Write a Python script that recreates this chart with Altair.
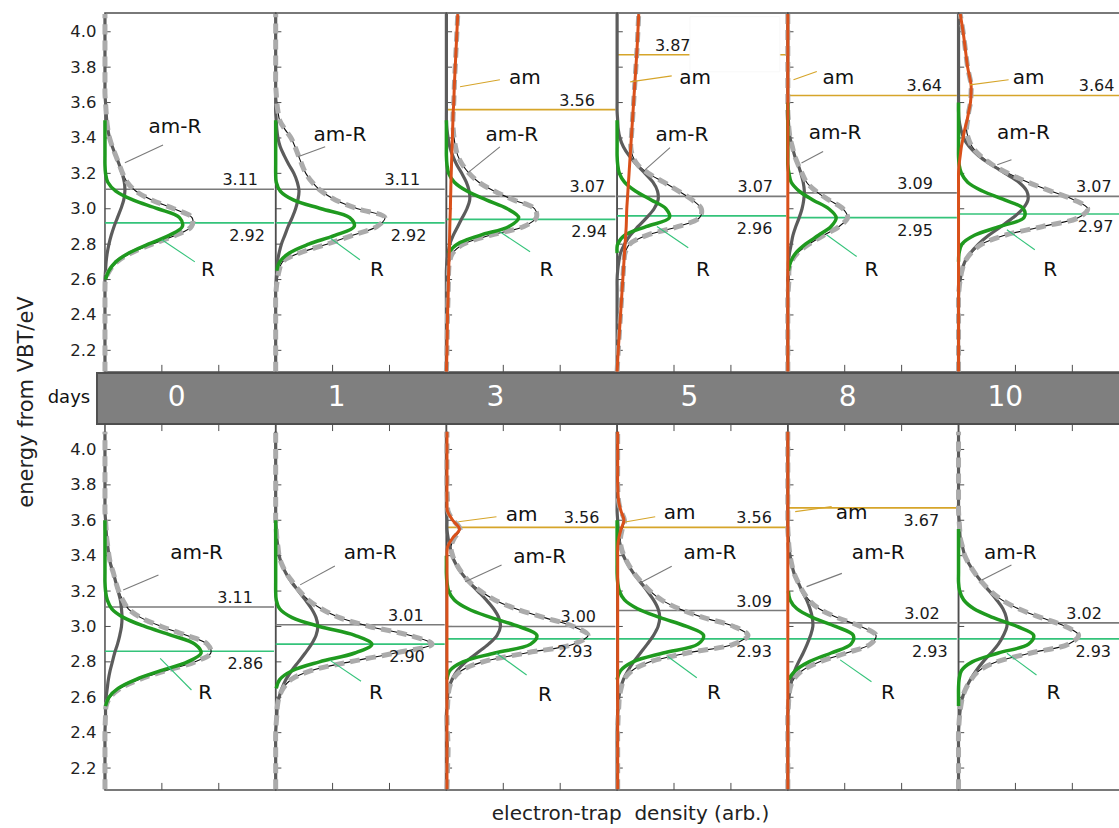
import altair as alt
import pandas as pd

# ---------------------------------------------------------------- data
DAYS = [0, 1, 3, 5, 8, 10]

# energy grid (eV from the valence-band top) on which every profile is listed
ENERGY = [2.08, 2.2, 2.3, 2.4,
          2.5, 2.55, 2.6, 2.65, 2.7, 2.75, 2.8, 2.85, 2.9, 2.95,
          3.0, 3.05, 3.1, 3.15, 3.2, 3.25, 3.3, 3.35, 3.4, 3.45,
          3.5, 3.55, 3.6, 3.65, 3.7, 3.8, 3.9, 4.0, 4.1]

# upper row: electron-trap density profiles, one list per day
UPPER_R = [
    [None, None, None, None,
     None, None, 0.01, 0.07, 0.19, 0.42, 0.76, 1.13, 1.36, 1.31,
     0.93, 0.49, 0.19, 0.05, 0.01, 0.0, 0.0, 0.0, 0.0, 0.0,
     0.0, None, None, None, None, None, None, None, None],
    [None, None, None, None,
     None, None, None, 0.02, 0.07, 0.24, 0.58, 1.04, 1.38, 1.30,
     0.80, 0.31, 0.08, 0.01, 0.0, 0.0, 0.0, 0.0, 0.0, 0.0,
     0.0, None, None, None, None, None, None, None, None],
    [None, None, None, None,
     None, None, None, None, None, 0.03, 0.19, 0.59, 1.10, 1.27,
     1.07, 0.70, 0.36, 0.14, 0.04, 0.01, 0.0, 0.0, 0.0, 0.0,
     0.0, None, None, None, None, None, None, None, None],
    [None, None, None, None,
     None, None, None, None, None, 0.0, 0.01, 0.13, 0.52, 0.92,
     0.86, 0.60, 0.32, 0.13, 0.04, 0.01, 0.0, 0.0, 0.0, 0.0,
     0.0, None, None, None, None, None, None, None, None],
    [None, None, None, None,
     None, None, None, 0.01, 0.05, 0.14, 0.31, 0.54, 0.76, 0.85,
     0.72, 0.44, 0.20, 0.06, 0.02, 0.0, 0.0, 0.0, 0.0, 0.0,
     0.0, 0.0, 0.0, None, None, None, None, None, None],
    [None, None, None, None,
     None, None, None, None, 0.0, 0.01, 0.06, 0.28, 0.73, 1.15,
     1.14, 0.81, 0.42, 0.16, 0.05, 0.01, 0.0, 0.0, 0.0, 0.0,
     0.0, 0.0, 0.0, None, None, None, None, None, None],
]
UPPER_AMR = [
    [0.0, 0.0, 0.0, 0.0,
     0.0, 0.0, 0.0, 0.01, 0.02, 0.04, 0.07, 0.11, 0.16, 0.22,
     0.28, 0.33, 0.35, 0.34, 0.30, 0.25, 0.19, 0.13, 0.08, 0.05,
     0.03, 0.02, 0.01, 0.0, 0.0, 0.0, 0.0, 0.0, 0.0],
    [0.0, 0.0, 0.0, 0.0,
     0.0, 0.0, 0.01, 0.02, 0.03, 0.06, 0.10, 0.16, 0.22, 0.29,
     0.35, 0.39, 0.41, 0.38, 0.32, 0.23, 0.15, 0.08, 0.04, 0.02,
     0.01, 0.0, 0.0, 0.0, 0.0, 0.0, 0.0, 0.0, 0.0],
    [0.0, 0.0, 0.0, 0.0,
     0.0, 0.0, 0.0, 0.0, 0.01, 0.03, 0.06, 0.12, 0.20, 0.28,
     0.36, 0.41, 0.40, 0.35, 0.27, 0.18, 0.11, 0.06, 0.03, 0.01,
     0.0, 0.0, 0.0, 0.0, 0.0, 0.0, 0.0, 0.0, 0.0],
    [0.0, 0.0, 0.0, 0.0,
     0.0, 0.0, 0.0, 0.01, 0.03, 0.06, 0.13, 0.23, 0.37, 0.52,
     0.65, 0.72, 0.71, 0.63, 0.49, 0.34, 0.21, 0.11, 0.05, 0.02,
     0.01, 0.0, 0.0, 0.0, 0.0, 0.0, 0.0, 0.0, 0.0],
    [0.0, 0.0, 0.0, 0.0,
     0.0, 0.0, 0.0, 0.01, 0.01, 0.03, 0.06, 0.09, 0.14, 0.20,
     0.25, 0.28, 0.29, 0.27, 0.23, 0.18, 0.12, 0.08, 0.04, 0.02,
     0.01, 0.0, 0.0, 0.0, 0.0, 0.0, 0.0, 0.0, 0.0],
    [0.0, 0.0, 0.0, 0.0,
     0.0, 0.01, 0.03, 0.06, 0.11, 0.21, 0.35, 0.53, 0.75, 0.96,
     1.13, 1.22, 1.20, 1.06, 0.82, 0.57, 0.35, 0.19, 0.09, 0.04,
     0.01, 0.0, 0.0, 0.0, 0.0, 0.0, 0.0, 0.0, 0.0],
]
UPPER_AM = [
    None,
    None,
    [0.0, 0.01, 0.015, 0.02,
     0.03, 0.033, 0.037, 0.04, 0.045, 0.05, 0.053, 0.057, 0.06, 0.065,
     0.07, 0.073, 0.077, 0.08, 0.085, 0.09, 0.095, 0.10, 0.105, 0.11,
     0.115, 0.12, 0.13, 0.135, 0.14, 0.155, 0.17, 0.185, 0.20],
    [0.0, 0.02, 0.04, 0.06,
     0.08, 0.09, 0.10, 0.11, 0.12, 0.13, 0.14, 0.15, 0.16, 0.165,
     0.17, 0.18, 0.19, 0.20, 0.21, 0.22, 0.23, 0.24, 0.25, 0.26,
     0.27, 0.28, 0.29, 0.30, 0.31, 0.33, 0.35, 0.365, 0.38],
    [0.0, 0.0, 0.0, 0.0,
     0.0, 0.0, 0.0, 0.0, 0.0, 0.0, 0.0, 0.0, 0.0, 0.0,
     0.0, 0.0, 0.0, 0.0, 0.0, 0.0, 0.0, 0.0, 0.0, 0.0,
     0.0, 0.0, 0.0, 0.0, 0.0, 0.0, 0.0, 0.0, 0.0],
    [0.0, 0.0, 0.0, 0.0,
     0.0, 0.0, 0.0, 0.0, 0.0, 0.0, 0.0, 0.0, 0.0, 0.0,
     0.0, 0.0, 0.0, 0.0, 0.0, 0.01, 0.03, 0.05, 0.08, 0.11,
     0.15, 0.18, 0.21, 0.22, 0.22, 0.16, 0.12, 0.08, 0.03],
]
UPPER_SUM = [
    [0.0, 0.0, 0.0, 0.0,
     0.0, 0.0, 0.01, 0.08, 0.21, 0.46, 0.83, 1.24, 1.52, 1.53,
     1.21, 0.82, 0.54, 0.39, 0.31, 0.25, 0.19, 0.13, 0.08, 0.05,
     0.03, 0.02, 0.01, 0.0, 0.0, 0.0, 0.0, 0.0, 0.0],
    [0.0, 0.0, 0.0, 0.0,
     0.0, 0.01, 0.03, 0.06, 0.12, 0.42, 0.90, 1.35, 1.78, 1.92,
     1.44, 1.05, 0.80, 0.64, 0.53, 0.46, 0.40, 0.34, 0.27, 0.16,
     0.07, 0.04, 0.02, 0.01, 0.0, 0.0, 0.0, 0.0, 0.0],
    [0.0, 0.01, 0.015, 0.02,
     0.03, 0.033, 0.037, 0.04, 0.055, 0.11, 0.30, 0.77, 1.36, 1.58,
     1.55, 1.18, 0.84, 0.57, 0.40, 0.28, 0.20, 0.16, 0.135, 0.12,
     0.115, 0.12, 0.13, 0.135, 0.14, 0.155, 0.17, 0.185, 0.20],
    [0.0, 0.02, 0.04, 0.06,
     0.08, 0.09, 0.10, 0.11, 0.12, 0.14, 0.22, 0.52, 1.08, 1.45,
     1.48, 1.32, 1.08, 0.82, 0.55, 0.36, 0.27, 0.24, 0.25, 0.26,
     0.27, 0.28, 0.29, 0.30, 0.31, 0.33, 0.35, 0.365, 0.38],
    [0.0, 0.0, 0.0, 0.0,
     0.0, 0.01, 0.02, 0.02, 0.06, 0.17, 0.37, 0.63, 0.90, 1.05,
     0.97, 0.72, 0.49, 0.33, 0.25, 0.18, 0.12, 0.08, 0.04, 0.02,
     0.01, 0.0, 0.0, 0.0, 0.0, 0.0, 0.0, 0.0, 0.0],
    [0.0, 0.0, 0.0, 0.0,
     0.0, 0.01, 0.03, 0.06, 0.11, 0.22, 0.41, 0.81, 1.48, 2.11,
     2.27, 2.03, 1.62, 1.22, 0.87, 0.59, 0.38, 0.24, 0.17, 0.14,
     0.16, 0.18, 0.21, 0.22, 0.22, 0.16, 0.12, 0.08, 0.03],
]

# lower row
LOWER_R = [
    [None, None, None, None,
     None, 0.01, 0.07, 0.23, 0.54, 0.98, 1.45, 1.69, 1.58, 1.17,
     0.70, 0.33, 0.12, 0.04, 0.01, 0.0, 0.0, 0.0, 0.0, 0.0,
     0.0, 0.0, 0.0, None, None, None, None, None, None],
    [None, None, None, None,
     None, None, None, 0.01, 0.07, 0.29, 0.77, 1.39, 1.69, 1.39,
     0.77, 0.29, 0.07, 0.01, 0.0, 0.0, 0.0, 0.0, 0.0, 0.0,
     0.0, 0.0, 0.0, None, None, None, None, None, None],
    [None, None, None, None,
     None, None, None, None, 0.01, 0.06, 0.29, 0.85, 1.48, 1.59,
     1.27, 0.79, 0.38, 0.14, 0.04, 0.01, 0.0, 0.0, 0.0, None,
     None, None, None, None, None, None, None, None, None],
    [None, None, None, None,
     None, None, None, None, 0.0, 0.06, 0.28, 0.81, 1.42, 1.52,
     1.22, 0.76, 0.36, 0.13, 0.04, 0.01, 0.0, 0.0, 0.0, 0.0,
     0.0, 0.0, 0.0, None, None, None, None, None, None],
    [None, None, None, None,
     None, None, None, None, 0.01, 0.13, 0.37, 0.76, 1.11, 1.15,
     0.84, 0.44, 0.16, 0.04, 0.01, None, None, None, None, None,
     None, None, None, None, None, None, None, None, None],
    [None, None, None, None,
     None, 0.0, 0.0, 0.0, 0.01, 0.05, 0.24, 0.70, 1.23, 1.32,
     1.03, 0.61, 0.27, 0.09, 0.02, 0.0, 0.0, 0.0, 0.0, 0.0,
     0.0, 0.0, None, None, None, None, None, None, None],
]
LOWER_AMR = [
    [0.0, 0.0, 0.0, 0.0,
     0.01, 0.01, 0.02, 0.04, 0.06, 0.09, 0.13, 0.17, 0.22, 0.26,
     0.29, 0.30, 0.29, 0.27, 0.23, 0.19, 0.15, 0.10, 0.07, 0.05,
     0.03, 0.02, 0.01, 0.0, 0.0, 0.0, 0.0, 0.0, 0.0],
    [0.0, 0.0, 0.0, 0.0,
     0.02, 0.03, 0.06, 0.11, 0.18, 0.28, 0.40, 0.52, 0.63, 0.71,
     0.74, 0.71, 0.63, 0.52, 0.40, 0.28, 0.18, 0.11, 0.06, 0.04,
     0.02, 0.01, 0.0, 0.0, 0.0, 0.0, 0.0, 0.0, 0.0],
    [0.0, 0.0, 0.0, 0.0,
     0.0, 0.01, 0.02, 0.04, 0.10, 0.19, 0.34, 0.54, 0.74, 0.89,
     0.95, 0.92, 0.83, 0.70, 0.55, 0.40, 0.27, 0.17, 0.10, 0.06,
     0.03, 0.01, 0.01, 0.0, 0.0, 0.0, 0.0, 0.0, 0.0],
    [0.0, 0.0, 0.0, 0.0,
     0.01, 0.02, 0.03, 0.06, 0.11, 0.19, 0.29, 0.41, 0.53, 0.64,
     0.72, 0.75, 0.72, 0.64, 0.53, 0.41, 0.29, 0.19, 0.11, 0.06,
     0.03, 0.02, 0.01, 0.0, 0.0, 0.0, 0.0, 0.0, 0.0],
    [0.0, 0.0, 0.0, 0.0,
     0.0, 0.01, 0.02, 0.04, 0.07, 0.12, 0.19, 0.27, 0.34, 0.40,
     0.44, 0.43, 0.39, 0.33, 0.25, 0.18, 0.11, 0.07, 0.04, 0.02,
     0.01, 0.0, 0.0, 0.0, 0.0, 0.0, 0.0, 0.0, 0.0],
    [0.0, 0.0, 0.0, 0.0,
     0.02, 0.04, 0.07, 0.13, 0.21, 0.31, 0.43, 0.57, 0.70, 0.79,
     0.85, 0.84, 0.78, 0.67, 0.54, 0.41, 0.29, 0.19, 0.11, 0.07,
     0.03, 0.02, 0.01, 0.0, 0.0, 0.0, 0.0, 0.0, 0.0],
]
LOWER_AM = [
    None,
    None,
    [0.01, 0.01, 0.01, 0.01,
     0.01, 0.01, 0.01, 0.01, 0.01, 0.01, 0.01, 0.01, 0.01, 0.01,
     0.01, 0.01, 0.01, 0.01, 0.01, 0.01, 0.01, 0.01, 0.01, 0.02,
     0.11, 0.23, 0.11, 0.02, 0.01, 0.01, 0.01, 0.01, 0.01],
    [0.01, 0.01, 0.01, 0.01,
     0.01, 0.01, 0.01, 0.01, 0.01, 0.01, 0.01, 0.01, 0.01, 0.01,
     0.01, 0.01, 0.01, 0.01, 0.01, 0.01, 0.01, 0.01, 0.01, 0.01,
     0.03, 0.07, 0.12, 0.07, 0.03, 0.01, 0.01, 0.01, 0.01],
    [0.0, 0.0, 0.0, 0.0,
     0.0, 0.0, 0.0, 0.0, 0.0, 0.0, 0.0, 0.0, 0.0, 0.0,
     0.0, 0.0, 0.0, 0.0, 0.0, 0.0, 0.0, 0.0, 0.0, 0.0,
     0.0, 0.0, 0.0, 0.0, 0.0, 0.0, 0.0, 0.0, 0.0],
    None,
]
LOWER_SUM = [
    [0.0, 0.0, 0.0, 0.0,
     0.01, 0.02, 0.09, 0.27, 0.60, 1.07, 1.58, 1.86, 1.80, 1.43,
     0.99, 0.63, 0.41, 0.31, 0.24, 0.19, 0.15, 0.10, 0.07, 0.05,
     0.03, 0.02, 0.01, 0.0, 0.0, 0.0, 0.0, 0.0, 0.0],
    [0.0, 0.0, 0.0, 0.0,
     0.02, 0.03, 0.06, 0.13, 0.27, 0.62, 1.30, 2.10, 2.75, 2.35,
     1.65, 1.12, 0.80, 0.57, 0.42, 0.30, 0.19, 0.11, 0.06, 0.04,
     0.02, 0.01, 0.0, 0.0, 0.0, 0.0, 0.0, 0.0, 0.0],
    [0.01, 0.02, 0.03, 0.02,
     0.01, 0.02, 0.03, 0.05, 0.11, 0.26, 0.64, 1.40, 2.23, 2.49,
     2.23, 1.72, 1.22, 0.85, 0.60, 0.41, 0.28, 0.18, 0.11, 0.08,
     0.14, 0.24, 0.12, 0.03, 0.02, 0.01, 0.01, 0.01, 0.01],
    [0.01, 0.01, 0.01, 0.01,
     0.02, 0.03, 0.04, 0.07, 0.12, 0.26, 0.58, 1.23, 2.05, 2.30,
     2.05, 1.52, 1.09, 0.78, 0.58, 0.43, 0.30, 0.20, 0.12, 0.07,
     0.06, 0.09, 0.13, 0.07, 0.03, 0.01, 0.01, 0.01, 0.01],
    [0.0, 0.0, 0.0, 0.0,
     0.0, 0.01, 0.02, 0.04, 0.10, 0.25, 0.56, 1.03, 1.45, 1.55,
     1.28, 0.87, 0.55, 0.37, 0.26, 0.18, 0.11, 0.07, 0.04, 0.02,
     0.01, 0.0, 0.0, 0.0, 0.0, 0.0, 0.0, 0.0, 0.0],
    [0.0, 0.0, 0.0, 0.0,
     0.02, 0.04, 0.07, 0.13, 0.22, 0.36, 0.67, 1.27, 1.93, 2.11,
     1.88, 1.45, 1.05, 0.76, 0.56, 0.41, 0.29, 0.19, 0.11, 0.07,
     0.03, 0.02, 0.01, 0.0, 0.0, 0.0, 0.0, 0.0, 0.0],
]

# peak energies written beside each level line
UPPER_R_PEAK = [2.92, 2.92, 2.94, 2.96, 2.95, 2.97]
UPPER_AMR_PEAK = [3.11, 3.11, 3.07, 3.07, 3.09, 3.07]
UPPER_AM_PEAK = [None, None, 3.56, 3.87, 3.64, 3.64]
LOWER_R_PEAK = [2.86, 2.90, 2.93, 2.93, 2.93, 2.93]
LOWER_AMR_PEAK = [3.11, 3.01, 3.00, 3.09, 3.02, 3.02]
LOWER_AM_PEAK = [None, None, 3.56, 3.56, 3.67, None]

Y_TICKS = [2.2, 2.4, 2.6, 2.8, 3.0, 3.2, 3.4, 3.6, 3.8, 4.0]

# ---------------------------------------------------------------- layout
FONT = "DejaVu Sans"
SPAN = 3.0                      # density units covered by one panel
LIFT = [2.36, 0.0]              # shift of the upper / lower row on the shared vertical scale
X_DOMAIN = [-0.14, 17.82]
Y_DOMAIN = [2.076, 6.466]
FRAME_E = [(2.078, 4.106), (2.076, 4.144)]
BAND_U = (4.144, 4.432)
BAND_MID = (BAND_U[0] + BAND_U[1]) / 2
LEVEL_END = 2.97

# right edge of the peak-value labels (density units from the panel's left edge)
VALUE_X = {
    (0, "amr"): [2.69, 2.54, 2.79, 2.74, 2.55, 2.69],
    (0, "r"): [2.81, 2.65, 2.82, 2.73, 2.55, 2.72],
    (0, "am"): [None, None, 2.61, 1.29, 2.71, 2.74],
    (1, "amr"): [2.60, 2.60, 2.63, 2.72, 2.67, 2.52],
    (1, "r"): [2.78, 2.62, 2.57, 2.72, 2.81, 2.68],
    (1, "am"): [None, None, 2.69, 2.72, 2.66, None],
}
# component names and their pointer lines: (x, E) of the name, then pointer start and end
TAGS = {
    (0, "amr"): [(1.23, 3.463), (1.13, 3.418), (1.15, 3.418), (1.14, 3.418), (0.83, 3.429), (1.14, 3.429)],
    (0, "r"): [(1.81, 2.655), (1.78, 2.655), (1.76, 2.655), (1.51, 2.655), (1.47, 2.655), (1.61, 2.655)],
    (0, "am"): [None, None, (1.38, 3.74), (1.37, 3.74), (0.89, 3.74), (1.23, 3.74)],
    (1, "amr"): [(1.61, 3.414), (1.66, 3.415), (1.64, 3.394), (1.63, 3.415), (1.59, 3.414), (0.91, 3.414)],
    (1, "r"): [(1.76, 2.623), (1.76, 2.625), (1.73, 2.613), (1.70, 2.625), (1.76, 2.623), (1.67, 2.623)],
    (1, "am"): [None, None, (1.32, 3.63), (1.10, 3.64), (1.12, 3.64), None],
}
POINTERS = {
    (0, "amr"): [(1.02, 3.36, 0.35, 3.26), (0.87, 3.35, 0.39, 3.294), (0.94, 3.35, 0.38, 3.204),
                 (0.93, 3.345, 0.49, 3.22), (0.62, 3.324, 0.24, 3.258), (0.93, 3.277, 0.68, 3.249)],
    (0, "r"): [(1.58, 2.70, 1.0, 2.825), (1.48, 2.712, 0.95, 2.836), (1.47, 2.757, 0.94, 2.87),
               (1.25, 2.78, 0.70, 2.90), (1.21, 2.73, 0.68, 2.853), (1.34, 2.768, 0.85, 2.881)],
    (0, "am"): [None, None, (0.94, 3.729, 0.24, 3.689), (0.96, 3.751, 0.23, 3.717),
                (0.51, 3.776, 0.10, 3.729), (0.88, 3.729, 0.20, 3.70)],
    (1, "amr"): [(0.94, 3.291, 0.32, 3.206), (1.04, 3.342, 0.43, 3.235), (0.97, 3.347, 0.33, 3.253),
                 (0.96, 3.34, 0.40, 3.245), (0.95, 3.30, 0.33, 3.225), (0.93, 3.347, 0.41, 3.263)],
    (1, "r"): [(1.52, 2.641, 0.97, 2.82), (1.50, 2.69, 0.95, 2.81), (1.41, 2.726, 0.88, 2.849),
               (1.40, 2.71, 0.89, 2.83), (1.47, 2.688, 0.92, 2.811), (1.37, 2.726, 0.85, 2.849)],
    (1, "am"): [None, None, (0.88, 3.62, 0.21, 3.592), (0.67, 3.62, 0.14, 3.59),
                (0.77, 3.677, 0.13, 3.649), None],
}
TAG_TEXT = {"amr": "am-R", "r": "R", "am": "am"}
DAY_LABEL_X = [1.26, 1.07, 0.86, 1.27, 1.05, 0.82]
# empty legend frame that sits over the 3.87 level line (upper row, day 5)
LEGEND_BOX = (3, 1.28, 2.86, 3.774, 4.085)

COLORS = {"amr": "#5c5c5c", "sum": "#ababab", "data": "#111111", "r": "#1f9a1f", "am": "#d9501a"}
LEVEL_COLORS = {"amr": "#7a7a7a", "r": "#34c37a", "am": "#d6a52a"}

# ---------------------------------------------------------------- tables
PROFILES = [
    {"amr": UPPER_AMR, "sum": UPPER_SUM, "r": UPPER_R, "am": UPPER_AM},
    {"amr": LOWER_AMR, "sum": LOWER_SUM, "r": LOWER_R, "am": LOWER_AM},
]
PEAKS = [
    {"amr": UPPER_AMR_PEAK, "r": UPPER_R_PEAK, "am": UPPER_AM_PEAK},
    {"amr": LOWER_AMR_PEAK, "r": LOWER_R_PEAK, "am": LOWER_AM_PEAK},
]

curve_rows = []
for r, table in enumerate(PROFILES):
    for comp, series in table.items():
        for p, values in enumerate(series):
            if values is None:
                continue
            assert len(values) == len(ENERGY)
            for e, v in zip(ENERGY, values):
                if v is None:
                    continue
                curve_rows.append({"key": f"{r}-{p}-{comp}", "comp": comp, "E": e,
                                   "u": e + LIFT[r], "x": p * SPAN + v})
curves = pd.DataFrame(curve_rows)

frames = pd.DataFrame([
    {"x": p * SPAN, "x2": (p + 1) * SPAN, "u": FRAME_E[r][0] + LIFT[r], "u2": FRAME_E[r][1] + LIFT[r]}
    for r in range(2) for p in range(len(DAYS))
])

ytick_rows, xtick_rows = [], []
for r in range(2):
    lo, hi = FRAME_E[r][0] + LIFT[r], FRAME_E[r][1] + LIFT[r]
    for p in range(len(DAYS)):
        for t in Y_TICKS:
            ytick_rows.append({"x": p * SPAN, "x2": p * SPAN + 0.1, "u": t + LIFT[r]})
        for k in (1, 2):
            xtick_rows.append({"x": p * SPAN + k, "u": lo, "u2": lo + 0.04})
            if r == 1:
                xtick_rows.append({"x": p * SPAN + k, "u": hi, "u2": hi - 0.04})
yticks = pd.DataFrame(ytick_rows)
xticks = pd.DataFrame(xtick_rows)

level_rows, value_rows, tag_rows, pointer_rows = [], [], [], []
for r in range(2):
    for comp in ("amr", "r", "am"):
        for p in range(len(DAYS)):
            val = PEAKS[r][comp][p]
            if val is not None:
                level_rows.append({"comp": comp, "x": p * SPAN, "x2": p * SPAN + LEVEL_END,
                                   "u": val + LIFT[r]})
                below = comp == "r" or (r == 1 and comp == "am" and p == 4)
                value_rows.append({"x": p * SPAN + VALUE_X[(r, comp)][p], "u": val + LIFT[r],
                                   "text": f"{val:.2f}", "side": "below" if below else "above"})
            tag = TAGS[(r, comp)][p]
            if tag is not None:
                tag_rows.append({"x": p * SPAN + tag[0], "u": tag[1] + LIFT[r], "text": TAG_TEXT[comp]})
            ptr = POINTERS[(r, comp)][p]
            if ptr is not None:
                pointer_rows.append({"comp": comp, "x": p * SPAN + ptr[0], "u": ptr[1] + LIFT[r],
                                     "x2": p * SPAN + ptr[2], "u2": ptr[3] + LIFT[r]})
levels = pd.DataFrame(level_rows)
values_df = pd.DataFrame(value_rows)
tags = pd.DataFrame(tag_rows)
pointers = pd.DataFrame(pointer_rows)

band = pd.DataFrame([{"x": X_DOMAIN[0], "x2": X_DOMAIN[1] + 0.5, "u": BAND_U[0], "u2": BAND_U[1]}])
day_labels = pd.DataFrame([{"x": p * SPAN + DAY_LABEL_X[p], "u": BAND_MID, "text": str(d)}
                           for p, d in enumerate(DAYS)])
days_word = pd.DataFrame([{"x": X_DOMAIN[0] - 0.12, "u": BAND_MID, "text": "days"}])
bp, bx0, bx1, be0, be1 = LEGEND_BOX
legend_box = pd.DataFrame([{"x": bp * SPAN + bx0, "x2": bp * SPAN + bx1,
                            "u": be0 + LIFT[0], "u2": be1 + LIFT[0]}])

# ---------------------------------------------------------------- encodings
x_axis = alt.Axis(labels=False, ticks=False, domain=False, grid=False,
                  title="electron-trap\u00a0 density (arb.)", titleFont=FONT, titleFontSize=20,
                  titleFontWeight="normal", titleColor="#222222", titleX=533, titleY=23,
                  titleBaseline="middle")
y_axis = alt.Axis(values=[round(t + LIFT[0], 3) for t in Y_TICKS] + Y_TICKS,
                  labelExpr=f"format(datum.value > 4.3 ? datum.value - {LIFT[0]} : datum.value, '.1f')",
                  domain=False, ticks=False, grid=False, labelOverlap=False,
                  labelFont=FONT, labelFontSize=16.5, labelColor="#222222", labelPadding=1,
                  title="energy from VBT/eV", titleFont=FONT, titleFontSize=21,
                  titleFontWeight="normal", titleColor="#222222", titleX=-71,
                  titleBaseline="middle")
X = alt.X("x:Q", scale=alt.Scale(domain=X_DOMAIN, nice=False, zero=False), axis=x_axis)
Y = alt.Y("u:Q", scale=alt.Scale(domain=Y_DOMAIN, nice=False, zero=False), axis=y_axis)


def curve(comp, source_comp=None, **style):
    return (alt.Chart(curves)
            .transform_filter(alt.datum.comp == (source_comp or comp))
            .mark_line(interpolate="catmull-rom", strokeCap="butt", color=COLORS[comp], **style)
            .encode(x=X, y=Y, detail="key:N", order="E:Q"))


def level(comp):
    return (alt.Chart(levels).transform_filter(alt.datum.comp == comp)
            .mark_rule(color=LEVEL_COLORS[comp], strokeWidth=1.6)
            .encode(x=X, x2="x2:Q", y=Y))


def pointer(comp):
    return (alt.Chart(pointers).transform_filter(alt.datum.comp == comp)
            .mark_rule(color=LEVEL_COLORS[comp], strokeWidth=1.1)
            .encode(x=X, x2="x2:Q", y=Y, y2="u2:Q"))


band_layer = alt.Chart(band).mark_rect(fill="#7f7f7f", stroke="#505050", strokeWidth=2).encode(
    x=X, x2="x2:Q", y=Y, y2="u2:Q")
frame_layer = alt.Chart(frames).mark_rect(fill="transparent", stroke="#4d4d4d", strokeWidth=1.5).encode(
    x=X, x2="x2:Q", y=Y, y2="u2:Q")
ytick_layer = alt.Chart(yticks).mark_rule(color="#4d4d4d", strokeWidth=1).encode(x=X, x2="x2:Q", y=Y)
xtick_layer = alt.Chart(xticks).mark_rule(color="#4d4d4d", strokeWidth=1).encode(x=X, y=Y, y2="u2:Q")
box_layer = alt.Chart(legend_box).mark_rect(fill="white", stroke="#f8f8f8", strokeWidth=1).encode(
    x=X, x2="x2:Q", y=Y, y2="u2:Q")

value_above = (alt.Chart(values_df).transform_filter(alt.datum.side == "above")
               .mark_text(align="right", baseline="alphabetic", dy=-4, font=FONT, fontSize=16,
                          color="#1a1a1a")
               .encode(x=X, y=Y, text="text:N"))
value_below = (alt.Chart(values_df).transform_filter(alt.datum.side == "below")
               .mark_text(align="right", baseline="top", dy=5, font=FONT, fontSize=16,
                          color="#1a1a1a")
               .encode(x=X, y=Y, text="text:N"))
tag_layer = alt.Chart(tags).mark_text(align="center", baseline="middle", font=FONT, fontSize=20,
                                       color="#111111").encode(x=X, y=Y, text="text:N")
day_layer = alt.Chart(day_labels).mark_text(align="center", baseline="middle", font=FONT,
                                             fontSize=28, color="white").encode(x=X, y=Y, text="text:N")
days_layer = alt.Chart(days_word).mark_text(align="right", baseline="middle", font=FONT,
                                             fontSize=18, color="#111111").encode(x=X, y=Y, text="text:N")

chart = alt.layer(
    band_layer,
    frame_layer,
    ytick_layer,
    xtick_layer,
    level("amr"),
    level("r"),
    level("am"),
    curve("data", source_comp="sum", strokeWidth=1.1),
    curve("amr", strokeWidth=3.2),
    curve("sum", strokeWidth=5, strokeDash=[10, 6]),
    curve("r", strokeWidth=3.5),
    curve("am", strokeWidth=3),
    box_layer,
    pointer("amr"),
    pointer("r"),
    pointer("am"),
    value_above,
    value_below,
    tag_layer,
    day_layer,
    days_layer,
).properties(
    width=1022,
    height=777,
    autosize=alt.AutoSizeParams(type="none"),
    padding={"left": 97, "top": 13, "right": 0, "bottom": 38},
).configure_view(stroke=None)

chart.save("out.html", embed_options={"renderer": "svg", "actions": False})
